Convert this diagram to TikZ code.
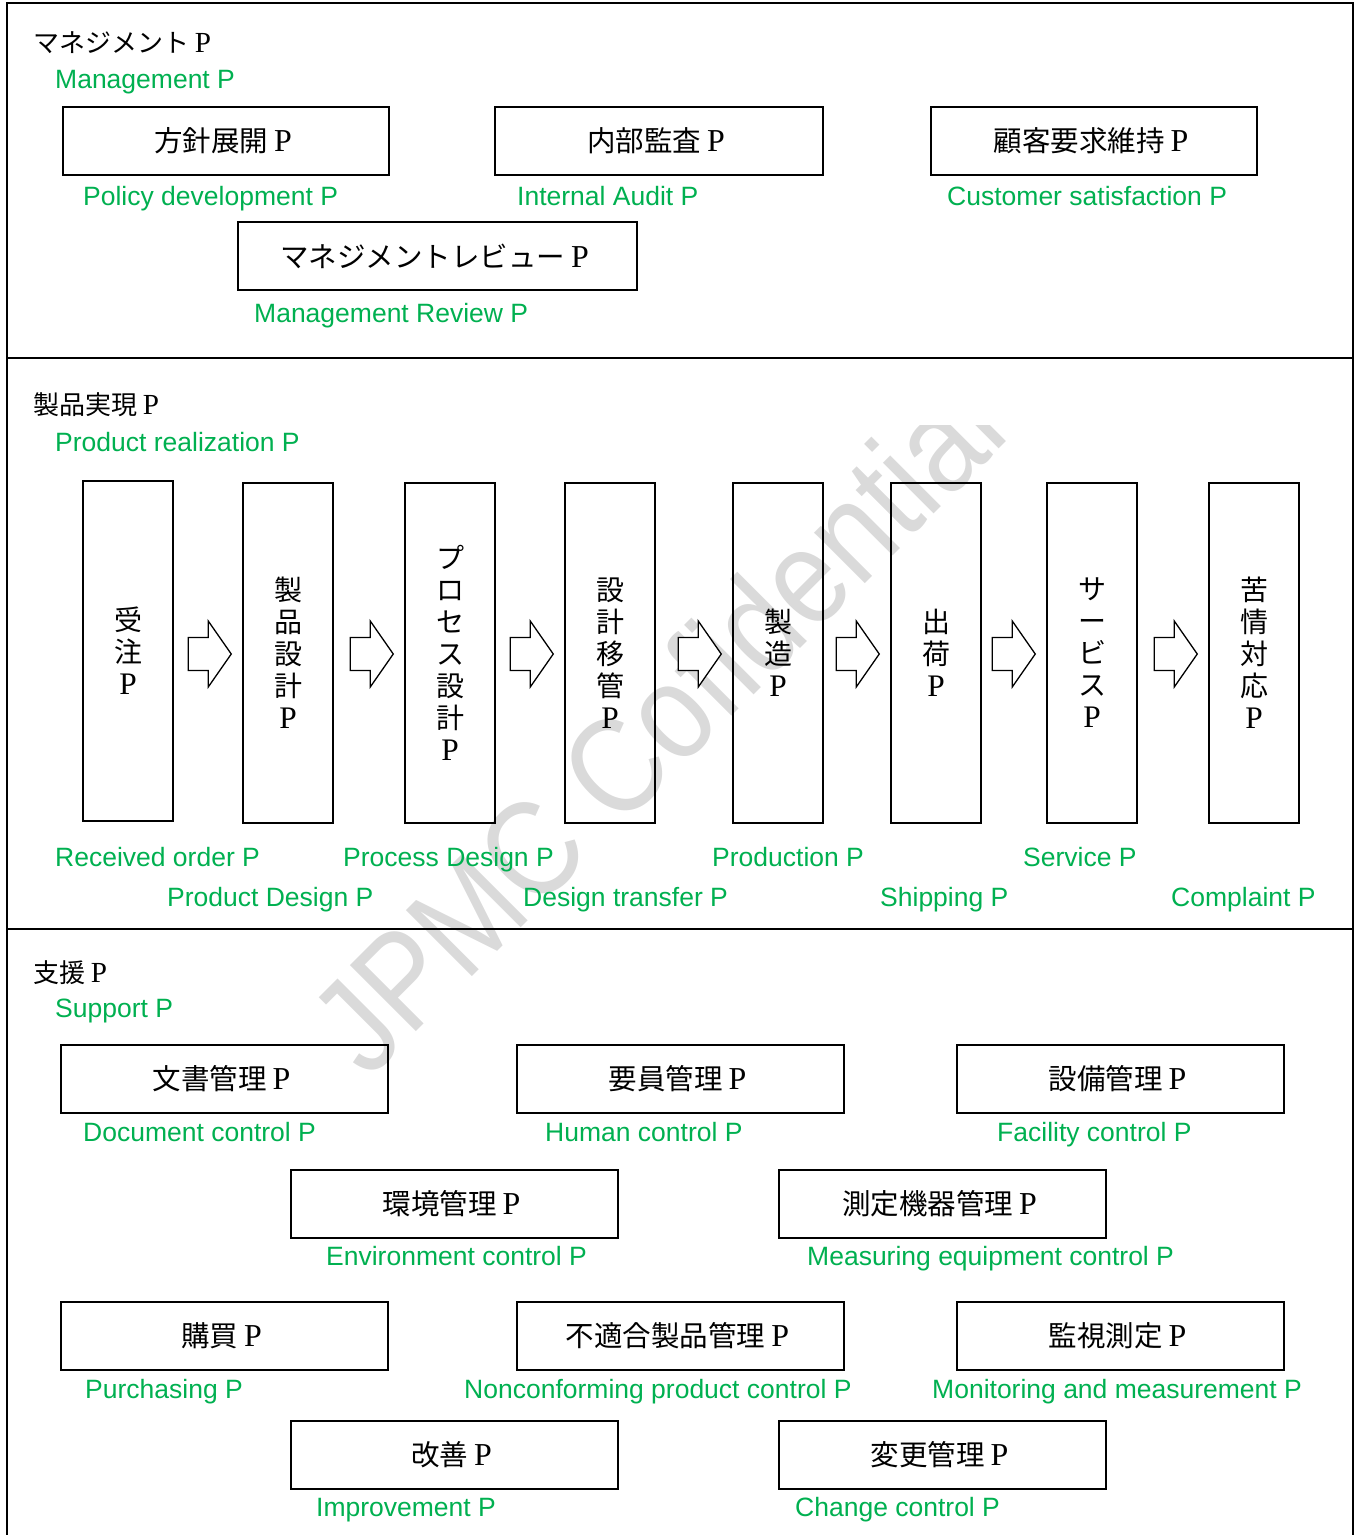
\documentclass[tikz,border=0pt]{standalone}
\usepackage{fontspec}
\usepackage{graphicx}
\setmainfont{Liberation Serif}
\newfontfamily\jp{Noto Sans CJK JP}
\newfontfamily\lsans{Liberation Sans}
\usetikzlibrary{calc}
\definecolor{lgreen}{RGB}{0,176,80}
\definecolor{wmgray}{RGB}{218,218,218}
\newcommand\fP{\makebox[1.05em]{\rmfamily\scalebox{1.12}{P}}}
\tikzset{
  pbox/.style={draw, line width=1.5pt, minimum width=327pt, minimum height=68pt, inner sep=0pt,
    font=\jp\fontsize{28.5}{32}\selectfont},
  tbox/.style={draw, line width=1.5pt, minimum width=90pt, minimum height=340pt, inner sep=0pt,
    align=center, font=\jp\fontsize{28}{32}\selectfont},
  lbl/.style={anchor=base west, inner sep=0pt, text=lgreen, font=\lsans\fontsize{26.5}{30}\selectfont},
  head/.style={anchor=base west, inner sep=0pt, font=\jp\fontsize{26}{30}\selectfont},
  barrow/.pic={\draw[line width=1.3pt, line join=miter, fill=white]
    (0,0) -- (-23,-33) -- (-23,-16.5) -- (-43,-16.5) -- (-43,16.5) -- (-23,16.5) -- (-23,33) -- cycle;}
}
\begin{document}
\begin{tikzpicture}[x=1pt,y=-1pt]
\useasboundingbox (0,0) rectangle (1360,1535);
% watermark
\begin{scope}
\clip (0,425) rectangle (1360,1535);
\node[rotate=45, yscale=1.15, inner sep=0pt, text=wmgray, font=\lsans\fontsize{118}{122}\selectfont] (wm) at (656,724) {JPMC Cofidential};
\end{scope}
% frame
\draw[line width=1.6pt] (7,1545) -- (7,3) -- (1353,3) -- (1353,1545);
\draw[line width=1.6pt] (7,358) -- (1353,358);
\draw[line width=1.6pt] (7,929) -- (1353,929);

% ---- Management
\node[head] (h1) at (33,52) {マネジメント\fP};
\node[lbl] (h1e) at (55,88) {Management P};
\node[pbox, minimum width=326pt] (b1) at (226,141) {方針展開\fP};
\node[pbox, minimum width=328pt] (b2) at (659,141) {内部監査\fP};
\node[pbox, minimum width=326pt] (b3) at (1094,141) {顧客要求維持\fP};
\node[pbox, minimum width=399pt] (b4) at (437.5,256) {マネジメントレビュー\fP};
\node[lbl] (b1e) at (83,205) {Policy development P};
\node[lbl] (b2e) at (517,205) {Internal Audit P};
\node[lbl] (b3e) at (947,205) {Customer satisfaction P};
\node[lbl] (b4e) at (254,322) {Management Review P};

% ---- Product realization
\node[head] (h2) at (33,414) {製品実現\fP};
\node[lbl] (h2e) at (55,451) {Product realization P};
\node[tbox] (t1) at (128,651) {受\\注\\\fP};
\node[tbox] (t2) at (288,653) {製\\品\\設\\計\\\fP};
\node[tbox] (t3) at (450,653) {プ\\ロ\\セ\\ス\\設\\計\\\fP};
\node[tbox] (t4) at (610,653) {設\\計\\移\\管\\\fP};
\node[tbox] (t5) at (778,653) {製\\造\\\fP};
\node[tbox] (t6) at (936,653) {出\\荷\\\fP};
\node[tbox] (t7) at (1092,653) {サ\\ー\\ビ\\ス\\\fP};
\node[tbox] (t8) at (1254,653) {苦\\情\\対\\応\\\fP};
\foreach \n in {t2,t3,t4,t5,t6,t7,t8}{
  \pic at ($(\n.west)+(-11,1)$) {barrow};
}
\node[lbl] (t1e) at (55,866) {Received order P};
\node[lbl] (t3e) at (343,866) {Process Design P};
\node[lbl] (t5e) at (712,866) {Production P};
\node[lbl] (t7e) at (1023,866) {Service P};
\node[lbl] (t2e) at (167,906) {Product Design P};
\node[lbl] (t4e) at (523,906) {Design transfer P};
\node[lbl] (t6e) at (880,906) {Shipping P};
\node[lbl] (t8e) at (1171,906) {Complaint P};

% ---- Support
\node[head] (h3) at (33,982) {支援\fP};
\node[lbl] (h3e) at (55,1017) {Support P};
\node[pbox] (s1) at (224.5,1079) {文書管理\fP};
\node[pbox] (s2) at (680.5,1079) {要員管理\fP};
\node[pbox] (s3) at (1120.5,1079) {設備管理\fP};
\node[lbl] (s1e) at (83,1141) {Document control P};
\node[lbl] (s2e) at (545,1141) {Human control P};
\node[lbl] (s3e) at (997,1141) {Facility control P};
\node[pbox] (s4) at (454.5,1204) {環境管理\fP};
\node[pbox] (s5) at (942.5,1204) {測定機器管理\fP};
\node[lbl] (s4e) at (326,1265) {Environment control P};
\node[lbl] (s5e) at (807,1265) {Measuring equipment control P};
\node[pbox] (s6) at (224.5,1336) {購買\fP};
\node[pbox] (s7) at (680.5,1336) {不適合製品管理\fP};
\node[pbox] (s8) at (1120.5,1336) {監視測定\fP};
\node[lbl] (s6e) at (85,1398) {Purchasing P};
\node[lbl] (s7e) at (464,1398) {Nonconforming product control P};
\node[lbl] (s8e) at (932,1398) {Monitoring and measurement P};
\node[pbox] (s9) at (454.5,1455) {改善\fP};
\node[pbox] (s10) at (942.5,1455) {変更管理\fP};
\node[lbl] (s9e) at (316,1516) {Improvement P};
\node[lbl] (s10e) at (795,1516) {Change control P};
\end{tikzpicture}
\end{document}
